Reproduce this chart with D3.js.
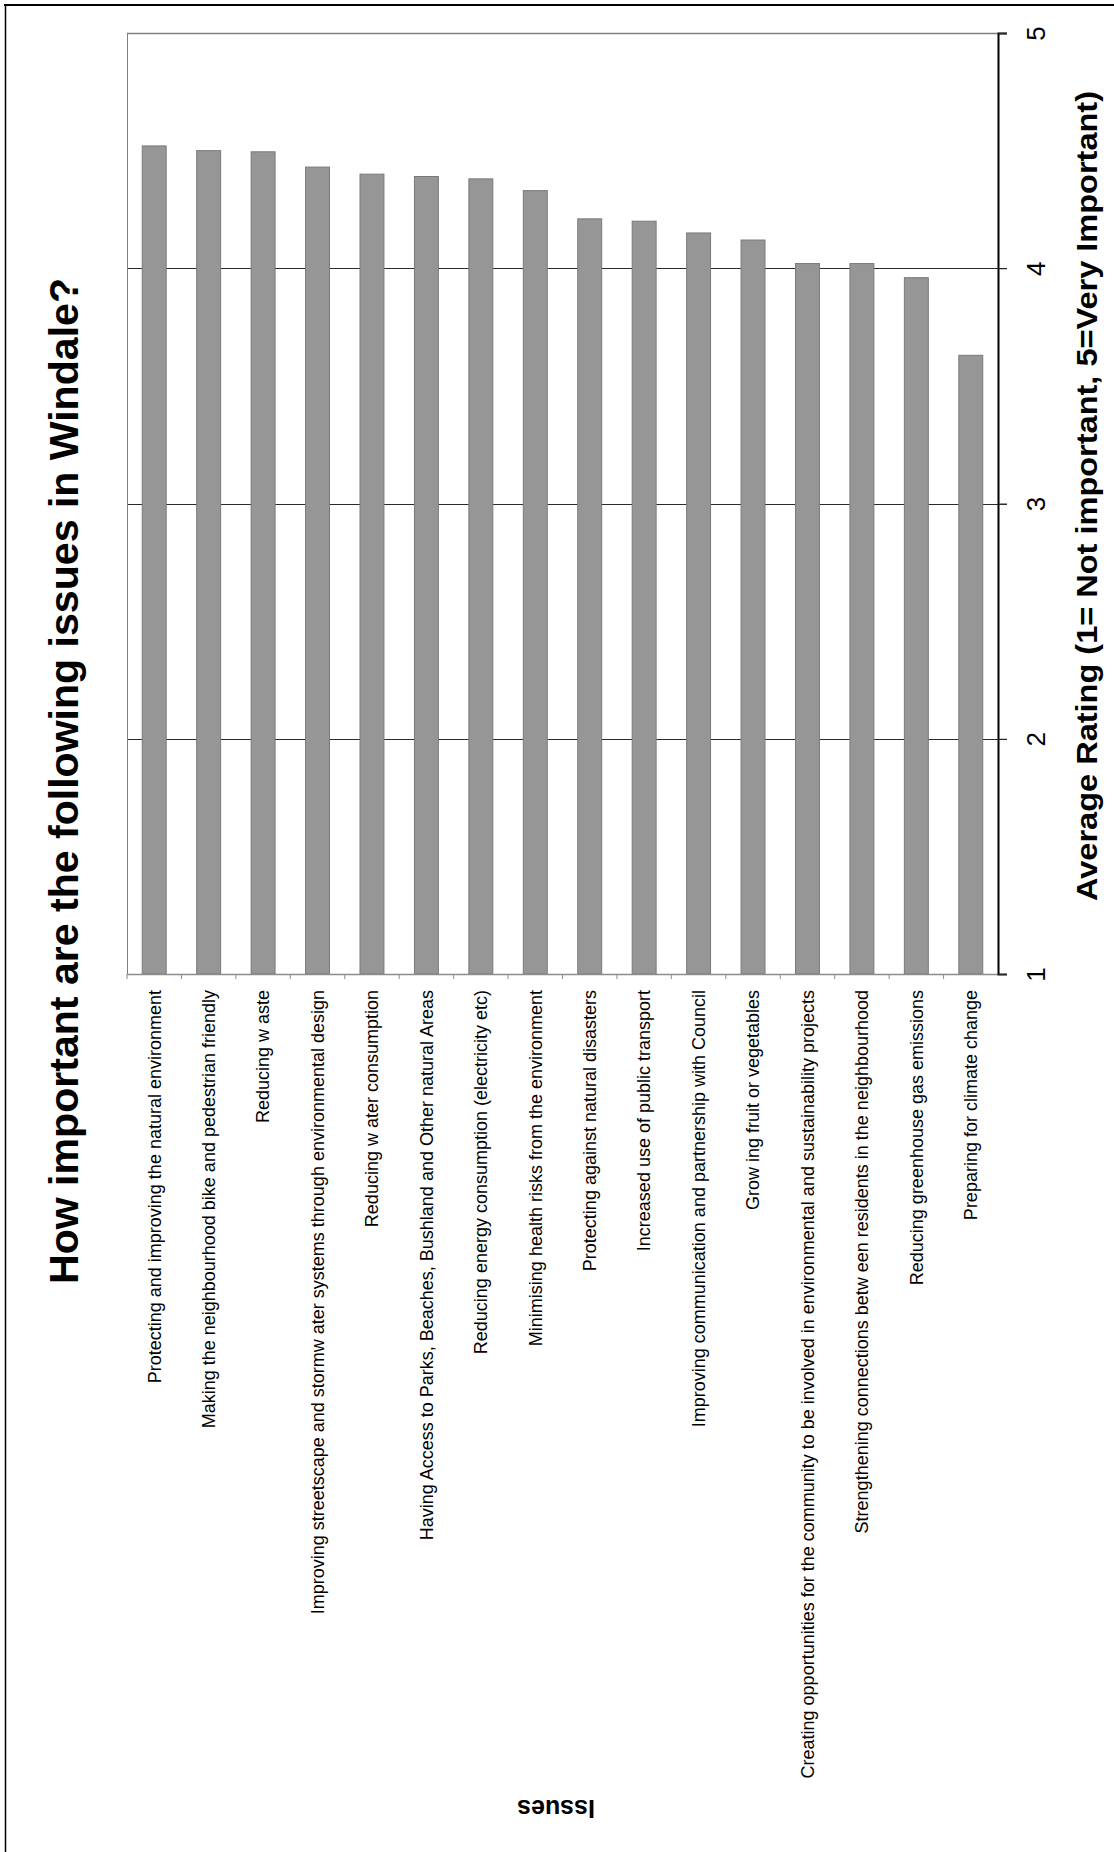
<!DOCTYPE html>
<html>
<head>
<meta charset="utf-8">
<script src="https://cdn.jsdelivr.net/npm/d3@7"></script>
<style>
  html, body { margin: 0; padding: 0; background: #ffffff; }
  svg { display: block; }
  text { font-family: "Liberation Sans", Arial, Helvetica, sans-serif; }
</style>
</head>
<body>
<svg id="chart" width="1114" height="1852"></svg>
<script>
// ---- data ----
const categories = [
  "Protecting and improving the natural environment",
  "Making the neighbourhood bike and pedestrian friendly",
  "Reducing w aste",
  "Improving streetscape and stormw ater systems through environmental design",
  "Reducing w ater consumption",
  "Having Access to Parks, Beaches, Bushland and Other natural Areas",
  "Reducing energy consumption (electricity etc)",
  "Minimising health risks from the environment",
  "Protecting against natural disasters",
  "Increased use of public transport",
  "Improving communication and partnership with Council",
  "Grow ing fruit or vegetables",
  "Creating opportunities for the community to be involved in environmental and sustainability projects",
  "Strengthening connections betw een residents in the neighbourhood",
  "Reducing greenhouse gas emissions",
  "Preparing for climate change"
];
const ratings = [4.52, 4.50, 4.495, 4.43, 4.40, 4.39, 4.38, 4.33, 4.21, 4.20, 4.15, 4.12, 4.02, 4.02, 3.96, 3.63];
const valueTicks = [1, 2, 3, 4, 5];
const chartTitle = "How important are the following issues in Windale?";
const valueAxisTitle = "Average Rating (1= Not important, 5=Very Important)";
const categoryAxisTitle = "Issues";

// ---- layout ----
const W = 1114, H = 1852;
const plot = { left: 127, right: 998, top: 33, bottom: 974 };

const svg = d3.select("#chart");
svg.append("rect").attr("width", W).attr("height", H).attr("fill", "#ffffff");

// outer frame (top and left edges visible)
svg.append("line").attr("x1", 4).attr("x2", W).attr("y1", 5).attr("y2", 5)
  .attr("stroke", "#000").attr("stroke-width", 2);
svg.append("line").attr("x1", 5.5).attr("x2", 5.5).attr("y1", 4).attr("y2", H)
  .attr("stroke", "#000").attr("stroke-width", 1.5);

const x = d3.scaleBand().domain(categories)
  .range([plot.left, plot.right]).paddingInner(0.56).paddingOuter(0.28);
const y = d3.scaleLinear().domain([1, 5]).range([plot.bottom, plot.top]);

// gridlines (extend past right axis as outward ticks)
svg.append("g").selectAll("line").data(valueTicks.filter(v => v > 1)).join("line")
  .attr("x1", plot.left).attr("x2", plot.right + 9)
  .attr("y1", d => Math.round(y(d)) + 0.5).attr("y2", d => Math.round(y(d)) + 0.5)
  .attr("stroke", d => d === 5 ? "#808080" : "#2a2a2a")
  .attr("stroke-width", d => d === 5 ? 1.5 : 1);

// left plot border
svg.append("line").attr("x1", plot.left + 0.5).attr("x2", plot.left + 0.5)
  .attr("y1", plot.top).attr("y2", plot.bottom)
  .attr("stroke", "#808080").attr("stroke-width", 1);

// bars
svg.append("g").selectAll("rect").data(categories).join("rect")
  .attr("x", d => x(d))
  .attr("width", x.bandwidth())
  .attr("y", (d, i) => y(ratings[i]))
  .attr("height", (d, i) => y(1) - y(ratings[i]))
  .attr("fill", "#969696")
  .attr("stroke", "#7a7a7a")
  .attr("stroke-width", 1);

// category axis (bottom line with ticks between categories)
const step = x.step();
const catAxis = svg.append("g");
catAxis.append("line").attr("x1", plot.left).attr("x2", plot.right)
  .attr("y1", plot.bottom + 0.5).attr("y2", plot.bottom + 0.5)
  .attr("stroke", "#8c8c8c").attr("stroke-width", 1.5);
catAxis.selectAll("line.tk").data(d3.range(categories.length)).join("line")
  .attr("class", "tk")
  .attr("x1", i => plot.left + i * step).attr("x2", i => plot.left + i * step)
  .attr("y1", plot.bottom).attr("y2", plot.bottom + 5)
  .attr("stroke", "#8c8c8c").attr("stroke-width", 1);

// category labels rotated, reading bottom to top
svg.append("g").selectAll("text").data(categories).join("text")
  .attr("transform", d => `translate(${x(d) + x.bandwidth() / 2},${plot.bottom + 16}) rotate(-90)`)
  .attr("text-anchor", "end")
  .attr("dy", "0.35em")
  .attr("font-size", 18)
  .attr("fill", "#000")
  .text(d => d);

// value axis on the right
const vAxis = svg.append("g").attr("transform", `translate(${plot.right},0)`)
  .call(d3.axisRight(y).tickValues(valueTicks).tickSize(9).tickFormat(d3.format("d")));
vAxis.select(".domain").attr("stroke", "#000").attr("stroke-width", 2);
vAxis.selectAll(".tick line").attr("stroke", "#2a2a2a");
vAxis.selectAll(".tick text")
  .attr("x", null).attr("dy", null)
  .attr("transform", "translate(47,0) rotate(-90)")
  .attr("text-anchor", "middle")
  .attr("font-size", 26)
  .attr("font-family", "\"Liberation Sans\", Arial, sans-serif")
  .attr("fill", "#000");

// value axis title
svg.append("text")
  .attr("transform", `translate(1097,496) rotate(-90)`)
  .attr("text-anchor", "middle")
  .attr("font-size", 29).attr("font-weight", "bold")
  .attr("textLength", 810).attr("lengthAdjust", "spacingAndGlyphs")
  .text(valueAxisTitle);

// chart title
svg.append("text")
  .attr("transform", `translate(78,781) rotate(-90)`)
  .attr("text-anchor", "middle")
  .attr("font-size", 41).attr("font-weight", "bold")
  .attr("textLength", 1006).attr("lengthAdjust", "spacingAndGlyphs")
  .text(chartTitle);

// category axis title (upside down)
svg.append("text")
  .attr("transform", `translate(556,1800) rotate(180)`)
  .attr("text-anchor", "middle")
  .attr("font-size", 25).attr("font-weight", "bold")
  .text(categoryAxisTitle);
</script>
</body>
</html>
